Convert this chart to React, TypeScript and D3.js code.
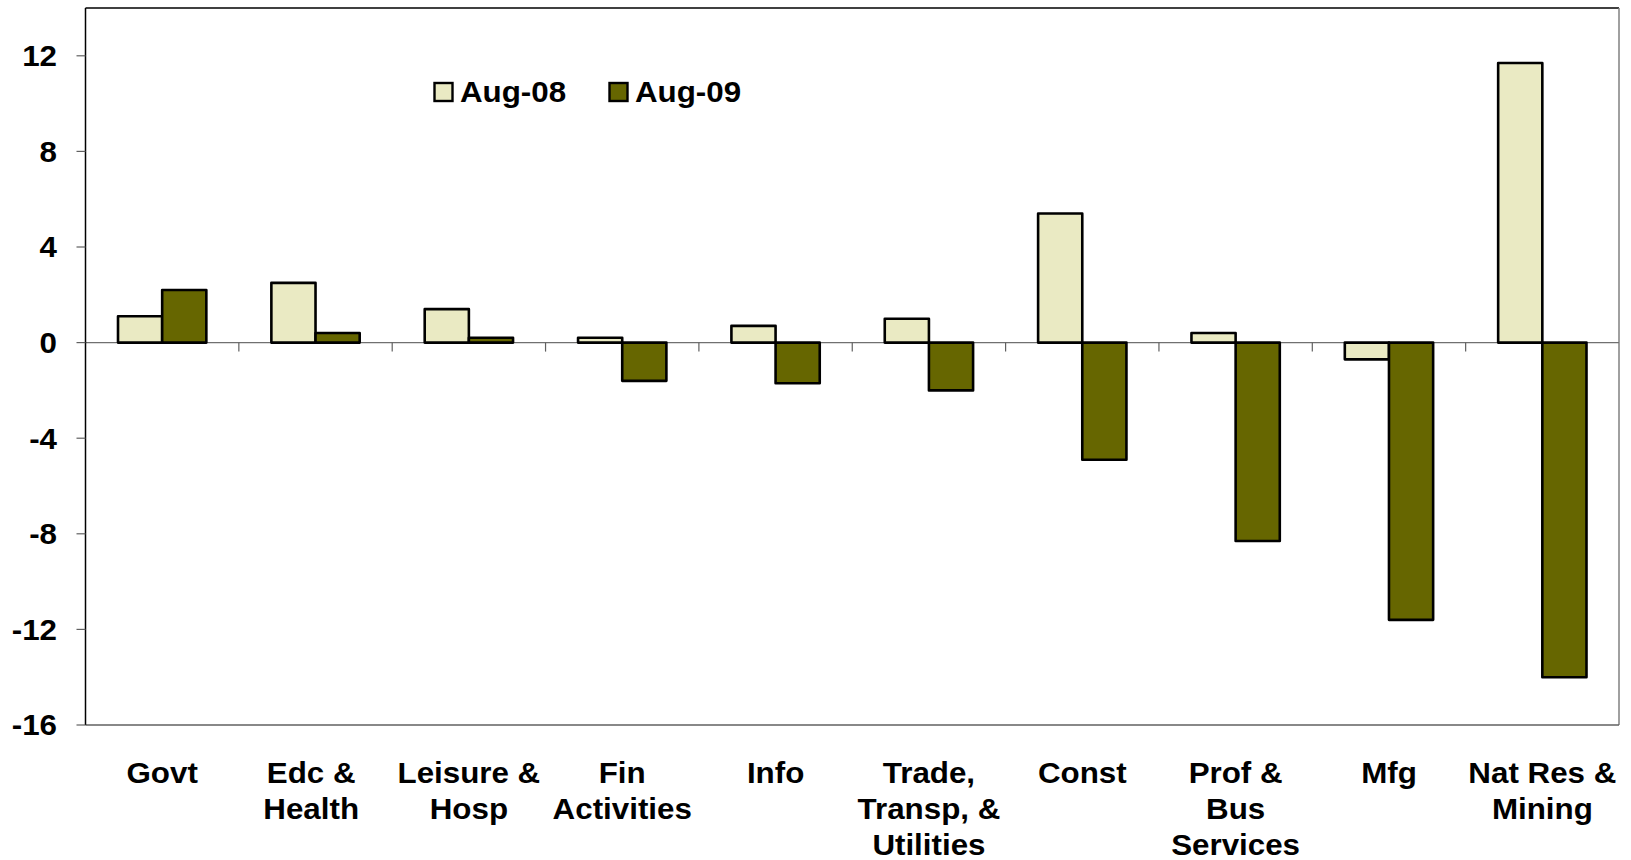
import React, { useEffect, useRef } from 'react';
import * as d3 from 'd3';

const categories = [
  'Govt', 'Edc & Health', 'Leisure & Hosp', 'Fin Activities', 'Info',
  'Trade, Transp, & Utilities', 'Const', 'Prof & Bus Services', 'Mfg', 'Nat Res & Mining',
];
// label lines as printed under the axis (the Edc label carries a trailing space)
const categoryLines = [
  ['Govt'], ['Edc &\u00a0', 'Health\u00a0'], ['Leisure &', 'Hosp'], ['Fin', 'Activities'], ['Info'],
  ['Trade,', 'Transp, &', 'Utilities'], ['Const'], ['Prof &', 'Bus', 'Services'], ['Mfg'], ['Nat Res &', 'Mining'],
];
const seriesNames = ['Aug-08', 'Aug-09'];
const aug08 = [1.1, 2.5, 1.4, 0.2, 0.7, 1.0, 5.4, 0.4, -0.7, 11.7];
const aug09 = [2.2, 0.4, 0.2, -1.6, -1.7, -2.0, -4.9, -8.3, -11.6, -14.0];
const yTicks = [12, 8, 4, 0, -4, -8, -12, -16];

const colors = ['#EAEAC3', '#666600'];
const FONT = 'Arial, "Liberation Sans", Helvetica, sans-serif';
const FS = 29;
const SX = 1.08; // reference glyphs are a bit wider than Arial

const Chart = () => {
  const ref = useRef<SVGSVGElement>(null);

  useEffect(() => {
    const svg = d3.select(ref.current);
    svg.selectAll('*').remove();

    const left = 85.5, right = 1619, top = 8, bottom = 725;

    const x = d3.scaleBand<string>()
      .domain(categories)
      .range([left, right]);

    const inner = d3.scaleBand<string>()
      .domain(seriesNames)
      .range([0, x.bandwidth() * 0.576]);
    const offset = (x.bandwidth() - inner.range()[1]) / 2;

    const y = d3.scaleLinear()
      .domain([-16, 14])
      .range([bottom, top]);

    // helper: bold text, stretched horizontally around its anchor
    const addText = (g: any, tx: number, ty: number, anchor: string, lines: string[], lh = 0) => {
      const t = g.append('g')
        .attr('transform', `translate(${tx},${ty}) scale(${SX},1)`)
        .append('text')
          .attr('text-anchor', anchor)
          .attr('font-family', FONT)
          .attr('font-weight', 'bold')
          .attr('font-size', FS);
      lines.forEach((ln, j) => {
        t.append('tspan').attr('x', 0).attr('y', j * lh).text(ln);
      });
      return t;
    };

    // plot frame
    svg.append('line').attr('x1', left).attr('x2', right).attr('y1', top).attr('y2', top)
      .attr('stroke', '#000').attr('stroke-width', 1.5);
    svg.append('line').attr('x1', right).attr('x2', right).attr('y1', top).attr('y2', bottom)
      .attr('stroke', '#808080').attr('stroke-width', 1.5);
    svg.append('line').attr('x1', left).attr('x2', right).attr('y1', bottom).attr('y2', bottom)
      .attr('stroke', '#606060').attr('stroke-width', 1.5);

    // zero line with category ticks
    svg.append('line').attr('x1', left).attr('x2', right).attr('y1', y(0)).attr('y2', y(0))
      .attr('stroke', '#707070').attr('stroke-width', 1.2);
    svg.append('g').selectAll('line')
      .data(categories.slice(1))
      .join('line')
        .attr('x1', d => x(d)!)
        .attr('x2', d => x(d)!)
        .attr('y1', y(0))
        .attr('y2', y(0) + 9)
        .attr('stroke', '#606060')
        .attr('stroke-width', 1.2);

    // y axis
    svg.append('line').attr('x1', left).attr('x2', left).attr('y1', top).attr('y2', bottom)
      .attr('stroke', '#000').attr('stroke-width', 1.5);
    const yAxis = svg.append('g');
    yAxis.selectAll('line')
      .data(yTicks)
      .join('line')
        .attr('x1', left - 9)
        .attr('x2', left)
        .attr('y1', d => y(d))
        .attr('y2', d => y(d))
        .attr('stroke', '#606060')
        .attr('stroke-width', 1.2);
    yTicks.forEach(v => {
      addText(yAxis, 57, y(v) + 10.4, 'end', [String(v)]);
    });

    // bars
    const series = [aug08, aug09];
    series.forEach((vals, si) => {
      svg.append('g').selectAll('rect')
        .data(vals)
        .join('rect')
          .attr('x', (d, i) => x(categories[i])! + offset + inner(seriesNames[si])!)
          .attr('width', inner.bandwidth())
          .attr('y', d => y(Math.max(0, d)))
          .attr('height', d => Math.abs(y(d) - y(0)))
          .attr('fill', colors[si])
          .attr('stroke', '#000')
          .attr('stroke-width', 2.6)
          .attr('stroke-linejoin', 'round');
    });

    // category labels
    const labels = svg.append('g');
    categoryLines.forEach((lines, i) => {
      addText(labels, x(categories[i])! + x.bandwidth() / 2, 782.5, 'middle', lines, 36.4)
        .attr('xml:space', 'preserve');
    });

    // legend
    const legendX = [434.5, 609.5];
    const legend = svg.append('g');
    seriesNames.forEach((name, i) => {
      legend.append('rect')
        .attr('x', legendX[i])
        .attr('y', 83)
        .attr('width', 18)
        .attr('height', 18)
        .attr('fill', colors[i])
        .attr('stroke', '#000')
        .attr('stroke-width', 2.4);
      addText(legend, legendX[i] + 25.5, 102, 'start', [name]);
    });
  }, []);

  return (
    <svg ref={ref} width={1631} height={860}
      style={{ position: 'absolute', left: 0, top: 0, background: '#fff' }} />
  );
};

export default function App() {
  return <Chart />;
}
